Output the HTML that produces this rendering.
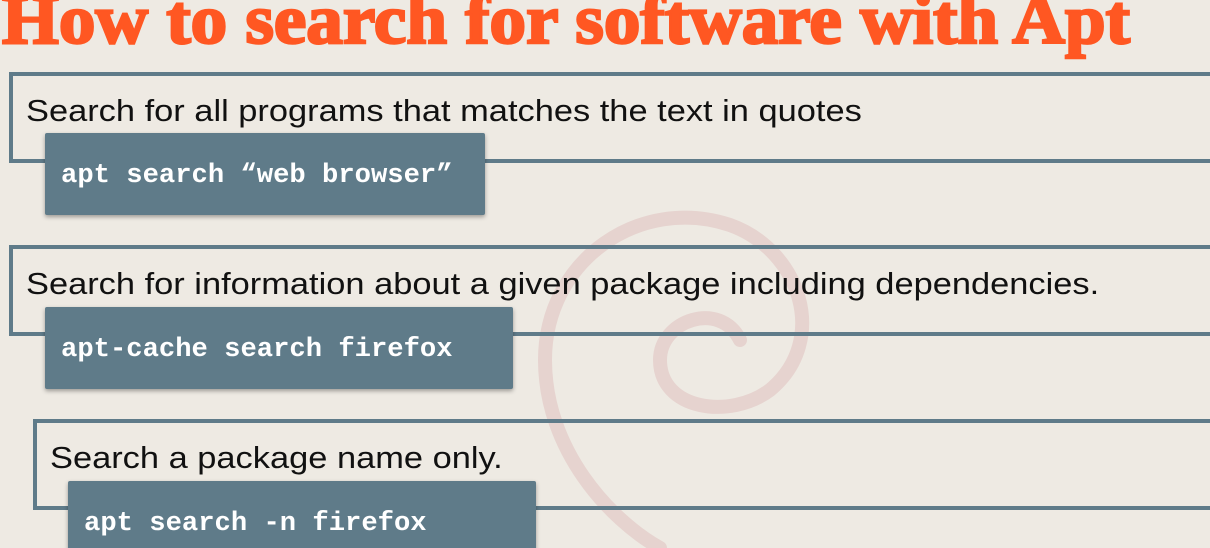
<!DOCTYPE html>
<html><head><meta charset="utf-8"><style>
html,body{margin:0;padding:0;overflow:hidden}
body{width:1210px;height:548px;overflow:hidden;background:#EEEAE3;position:relative;font-family:"Liberation Sans",sans-serif}
.box{position:absolute;border:4px solid #5F7B89;box-sizing:border-box;height:91px;left:0;width:1230px}
.box span{position:absolute;left:13px;top:17px;font-size:31px;color:#111;white-space:nowrap;transform:scaleX(1.11);transform-origin:0 0}
.code{position:absolute;background:#5F7B89;box-shadow:0 2px 4px rgba(0,0,0,0.35);border-radius:2px;height:82px;box-sizing:border-box}
.code span{position:absolute;left:16px;top:27px;font-family:"Liberation Mono",monospace;font-weight:bold;font-size:27.2px;color:#fff;white-space:nowrap}
</style></head><body>
<svg style="position:absolute;left:0;top:0" width="1210" height="548">
<path d="M740 340 C 720 300, 660 320, 660 360 C 660 410, 730 420, 770 390 C 830 340, 800 250, 730 225 C 640 195, 545 260, 545 360 C 545 450, 610 520, 660 548" fill="none" stroke="#E6D3CF" stroke-width="14" stroke-linecap="round"/>
</svg>
<svg style="position:absolute;left:0;top:0" width="1210" height="60">
<text x="2" y="43" textLength="1128" lengthAdjust="spacingAndGlyphs" font-family="Liberation Serif, serif" font-weight="bold" font-size="70" fill="#FF5722" stroke="#FF5722" stroke-width="2.5">How to search for software with Apt</text>
</svg>
<div class="box" style="left:9px;top:72px"><span>Search for all programs that matches the text in quotes</span></div>
<div class="code" style="left:45px;top:133px;width:440px"><span>apt search “web browser”</span></div>
<div class="box" style="left:9px;top:245px"><span>Search for information about a given package including dependencies.</span></div>
<div class="code" style="left:45px;top:307px;width:468px"><span>apt-cache search firefox</span></div>
<div class="box" style="left:33px;top:419px"><span>Search a package name only.</span></div>
<div class="code" style="left:68px;top:481px;width:468px"><span>apt search -n firefox</span></div>
</body></html>
